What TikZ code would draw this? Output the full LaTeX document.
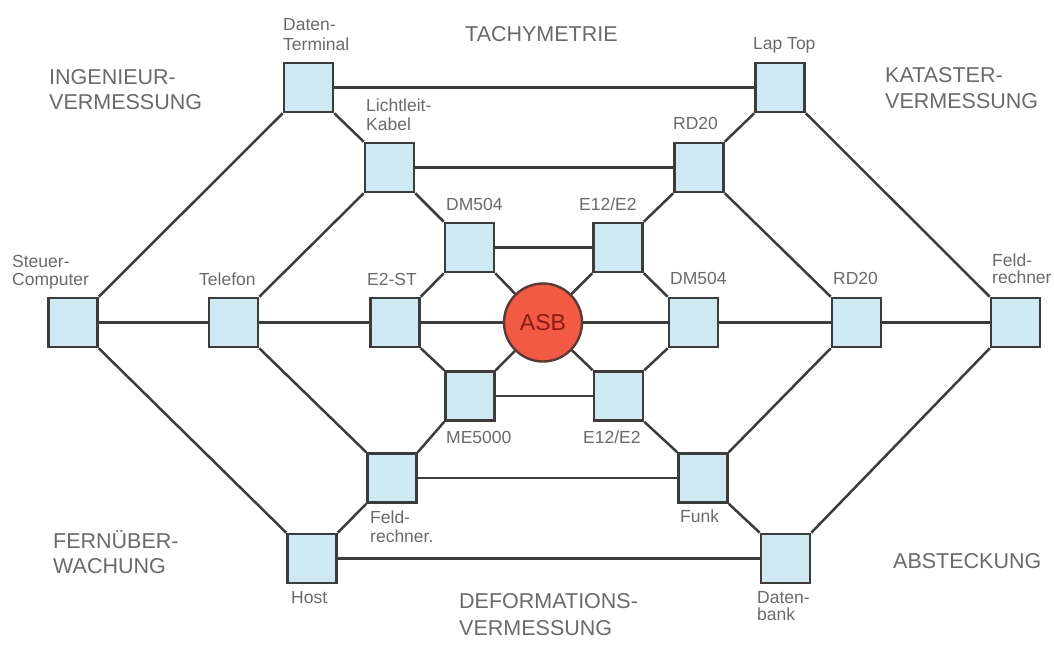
\documentclass[tikz,border=0pt]{standalone}
\usepackage{fontspec}
\setmainfont{Liberation Sans}
\definecolor{boxfill}{HTML}{CFE9F3}
\definecolor{linec}{HTML}{3C3C3C}
\definecolor{txt}{HTML}{6A6A6A}
\definecolor{asbfill}{HTML}{F25A45}
\definecolor{asbline}{HTML}{5A3A35}
\definecolor{asbtxt}{HTML}{8A1C14}
\begin{document}
\begin{tikzpicture}[x=1pt,y=-1pt,
  dev/.style={rectangle, draw=linec, fill=boxfill, line width=2.6pt, minimum size=49pt, inner sep=0pt},
  hub/.style={circle, draw=asbline, fill=asbfill, line width=2.4pt, minimum size=78pt, inner sep=0pt, text=asbtxt, font=\fontsize{23}{26}\selectfont},
  conn/.style={draw=linec, line width=2.5pt},
  lbl/.style={text=txt, font=\fontsize{17.5}{#1}\selectfont, inner sep=0pt, align=left, anchor=base west},
  lbl/.default=19,
  area/.style={text=txt, font=\fontsize{21.5}{#1}\selectfont, inner sep=0pt, align=left, anchor=base west},
  area/.default=25.5]
\fill[white] (0,0) rectangle (1054,646);
\useasboundingbox (0,0) rectangle (1054,646);

% devices
\node[dev] (dt)   at (308.5,87.5) {};
\node[dev] (lt)   at (780,87.5) {};
\node[dev] (lk)   at (389.5,167.5) {};
\node[dev] (rdt)  at (699,167.5) {};
\node[dev] (dml)  at (469.5,247.5) {};
\node[dev] (eet)  at (618,247.5) {};
\node[dev] (sc)   at (73,322.5) {};
\node[dev] (tel)  at (233.5,322.5) {};
\node[dev] (est)  at (395,322.5) {};
\node[hub] (asb)  at (543,322.5) {ASB};
\node[dev] (dmr)  at (693.5,322.5) {};
\node[dev] (rdr)  at (856.5,322.5) {};
\node[dev] (fr)   at (1015.5,322.5) {};
\node[dev] (me)   at (470,396) {};
\node[dev] (eeb)  at (618.5,396) {};
\node[dev] (fl)   at (392,478) {};
\node[dev] (funk) at (703,478) {};
\node[dev] (host) at (312,558.5) {};
\node[dev] (db)   at (785.5,558.5) {};

% horizontal connectors
\draw[conn] (dt) -- (lt);
\draw[conn] (lk) -- (rdt);
\draw[conn] (dml) -- (eet);
\draw[conn] (sc) -- (tel);
\draw[conn] (tel) -- (est);
\draw[conn] (est) -- (asb);
\draw[conn] (asb) -- (dmr);
\draw[conn] (dmr) -- (rdr);
\draw[conn] (rdr) -- (fr);
\draw[conn] (me) -- (eeb);
\draw[conn] (fl) -- (funk);
\draw[conn] (host) -- (db);

% diagonal connectors, left half
\draw[conn] (sc.north east) -- (dt.south west);
\draw[conn] (sc.south east) -- (host.north west);
\draw[conn] (dt.south east) -- (lk.north west);
\draw[conn] (tel.north east) -- (lk.south west);
\draw[conn] (tel.south east) -- (fl.north west);
\draw[conn] (lk.south east) -- (dml.north west);
\draw[conn] (est.north east) -- (dml.south west);
\draw[conn] (est.south east) -- (me.north west);
\draw[conn] (dml.south east) -- (asb);
\draw[conn] (me.north east) -- (asb);
\draw[conn] (me.south west) -- (fl.north east);
\draw[conn] (fl.south west) -- (host.north east);

% diagonal connectors, right half
\draw[conn] (lt.south west) -- (rdt.north east);
\draw[conn] (lt.south east) -- (fr.north west);
\draw[conn] (db.north east) -- (fr.south west);
\draw[conn] (rdt.south west) -- (eet.north east);
\draw[conn] (rdt.south east) -- (rdr.north west);
\draw[conn] (funk.north east) -- (rdr.south west);
\draw[conn] (eet.south west) -- (asb);
\draw[conn] (eeb.north west) -- (asb);
\draw[conn] (eet.south east) -- (dmr.north west);
\draw[conn] (eeb.north east) -- (dmr.south west);
\draw[conn] (eeb.south east) -- (funk.north west);
\draw[conn] (funk.south east) -- (db.north west);

% device labels (multi-line nodes: coordinate is the baseline of the last line)
\node[lbl=20]   (l-dt)   at (283,50.7)  {Daten-\\Terminal};
\node[lbl]      (l-lt)   at (753,49)    {Lap Top};
\node[lbl=18.5] (l-lk)   at (366,130)   {Lichtleit-\\Kabel};
\node[lbl]      (l-rdt)  at (673,129)   {RD20};
\node[lbl]      (l-dml)  at (446,210)   {DM504};
\node[lbl]      (l-eet)  at (579,210)   {E12/E2};
\node[lbl=18]   (l-sc)   at (12,285)    {Steuer-\\Computer};
\node[lbl]      (l-tel)  at (199,285)   {Telefon};
\node[lbl]      (l-est)  at (367,285)   {E2-ST};
\node[lbl]      (l-dmr)  at (670,284)   {DM504};
\node[lbl]      (l-rdr)  at (833,284)   {RD20};
\node[lbl=17]   (l-fr)   at (992,283.5) {Feld-\\rechner};
\node[lbl]      (l-me)   at (446,443)   {ME5000};
\node[lbl]      (l-eeb)  at (583,443)   {E12/E2};
\node[lbl=19]   (l-fl)   at (370,542)   {Feld-\\rechner.};
\node[lbl]      (l-funk) at (680,522)   {Funk};
\node[lbl]      (l-host) at (291,603)   {Host};
\node[lbl=17]   (l-db)   at (757,620.5) {Daten-\\bank};

% area labels
\node[area=25] (a-ing) at (49,109)  {INGENIEUR-\\VERMESSUNG};
\node[area]    (a-tac) at (465,41)  {TACHYMETRIE};
\node[area=26] (a-kat) at (885,108) {KATASTER-\\VERMESSUNG};
\node[area=25] (a-fer) at (53,573)  {FERNÜBER-\\WACHUNG};
\node[area]    (a-abs) at (893,568) {ABSTECKUNG};
\node[area=27] (a-def) at (459,635) {DEFORMATIONS-\\VERMESSUNG};
\end{tikzpicture}
\end{document}
